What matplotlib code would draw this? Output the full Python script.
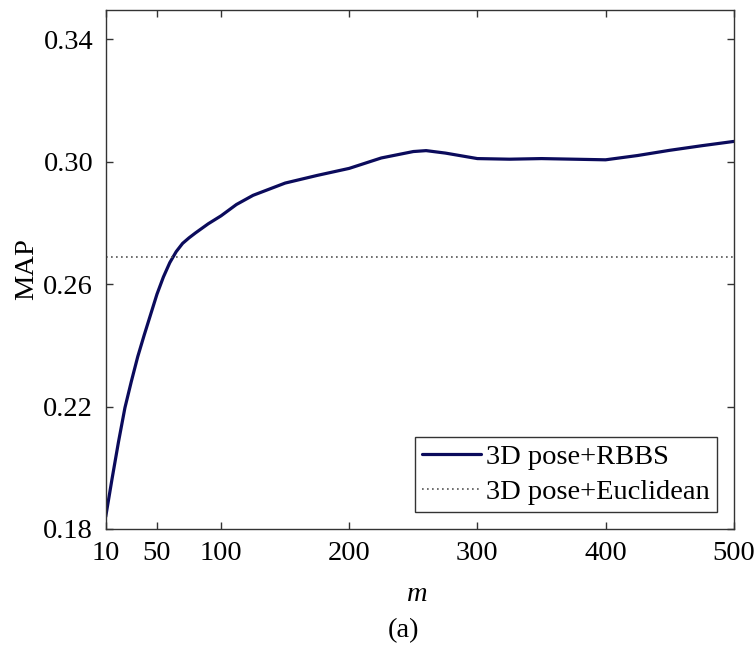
import matplotlib
matplotlib.use("Agg")
import matplotlib.pyplot as plt

# ---- data ----
m_values = [10, 15, 20, 25, 30, 35, 40, 45, 50, 55, 60, 65, 70, 75, 80, 90, 100,
            112, 125, 150, 175, 200, 225, 250, 260, 275, 300, 325, 350, 375, 400,
            425, 450, 475, 500]
map_rbbs = [0.1840, 0.1965, 0.2085, 0.2196, 0.2282, 0.2363, 0.2433, 0.2500,
            0.2567, 0.2623, 0.2670, 0.2706, 0.2733, 0.2751, 0.2767, 0.2797, 0.2823,
            0.2860, 0.2890, 0.2930, 0.2955, 0.2978, 0.3012, 0.3033, 0.3036, 0.3028,
            0.3010, 0.3008, 0.3010, 0.3008, 0.3006, 0.3020, 0.3037, 0.3052,
            0.3066]
map_euclidean = 0.2687
labels = ["3D pose+RBBS", "3D pose+Euclidean"]
x_ticks = [10, 50, 100, 200, 300, 400, 500]
y_ticks = [0.18, 0.22, 0.26, 0.30, 0.34]
y_tick_labels = ["0.18", "0.22", "0.26", "0.30", "0.34"]

plt.rcParams['font.family'] = ['Liberation Serif', 'DejaVu Serif']
FS = 20.5

fig = plt.figure(figsize=(7.54, 6.46), dpi=100)
ax = fig.add_axes([105.7/754, 1-529/646, (733.7-105.7)/754, (529-9.5)/646])

ax.plot(m_values, map_rbbs, color='#0b0b5c', lw=2.3, label=labels[0],
        solid_capstyle='round', solid_joinstyle='round')
ax.axhline(map_euclidean, color='#555555', lw=1.2, ls=(0, (1, 2)), label=labels[1])

ax.set_xlim(10, 500)
ax.set_ylim(0.18, 0.3497)
ax.set_xticks(x_ticks)
ax.set_yticks(y_ticks)
ax.set_yticklabels(y_tick_labels)
ax.tick_params(direction='in', length=5, width=1, top=True, right=True,
               labelsize=FS, pad=9, color='#333333')
for s in ax.spines.values():
    s.set_color('#333333')
    s.set_linewidth(1.0)

ax.set_ylabel('MAP', fontsize=FS)
ax.yaxis.set_label_coords((39.5 - 105.7) / 628, 0.5)
ax.set_xlabel('m', fontsize=FS, style='italic')
ax.xaxis.set_label_coords((417 - 105.7) / 628, (529 - 600.7) / 519.5)
ax.xaxis.label.set_va('baseline')

leg = ax.legend(loc='lower right', fontsize=FS, frameon=True, fancybox=False,
                edgecolor='#333333', framealpha=1, handlelength=2.1,
                handletextpad=0.15, borderpad=0.25, labelspacing=0.31,
                borderaxespad=0.6)
leg.get_frame().set_linewidth(1.0)

fig.text(403.7/754, 1-631/646, '(a)', fontsize=FS, ha='center', va='center')

fig.savefig('out.png', dpi=100)
